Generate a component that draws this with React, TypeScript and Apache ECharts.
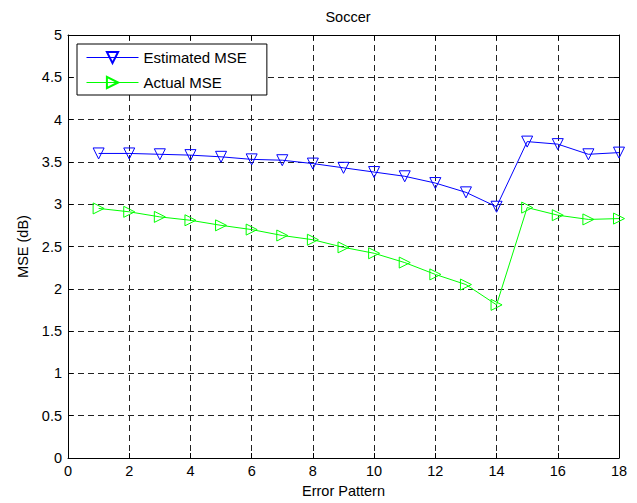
import React, { useEffect, useRef } from "react";
import * as echarts from "echarts";

const xValues = [1, 2, 3, 4, 5, 6, 7, 8, 9, 10, 11, 12, 13, 14, 15, 16, 17, 18];
const estimatedMSE = [3.6, 3.6, 3.59, 3.58, 3.56, 3.53, 3.52, 3.48, 3.43, 3.38, 3.33, 3.25, 3.14, 2.97, 3.74, 3.71, 3.59, 3.61];
const actualMSE = [2.95, 2.91, 2.85, 2.81, 2.75, 2.7, 2.63, 2.58, 2.49, 2.42, 2.31, 2.17, 2.05, 1.81, 2.96, 2.87, 2.82, 2.83];
const seriesNames = ["Estimated MSE", "Actual MSE"];

const FONT = "Liberation Sans, Arial, sans-serif";
const FS = 14.5;

export default function App() {
  const ref = useRef<HTMLDivElement>(null);
  useEffect(() => {
    if (!ref.current) return;
    const chart = echarts.init(ref.current, null, { renderer: "svg" });
    const axisCommon = {
      type: "value" as const,
      axisLine: { show: true, onZero: false, lineStyle: { color: "#000", width: 1 } },
      axisTick: { show: true, inside: true, length: 5, lineStyle: { color: "#000" } },
    };
    const option: any = {
      animation: false,
      backgroundColor: "#fff",
      title: {
        text: "Soccer",
        left: 343,
        top: 4,
        textAlign: "center",
        textStyle: { fontFamily: FONT, fontSize: FS, fontWeight: "normal", color: "#000" },
      },
      grid: { left: 68, right: 18, top: 35, bottom: 43, show: false },
      legend: {
        orient: "vertical",
        left: 77,
        top: 44,
        backgroundColor: "#fff",
        borderColor: "#000",
        borderWidth: 1,
        padding: [6, 20, 5, 9],
        itemWidth: 52,
        itemHeight: 14,
        itemGap: 10,
        lineStyle: { width: 1 },
        textStyle: { fontFamily: FONT, fontSize: 15, color: "#000" },
        data: seriesNames,
      },
      xAxis: [
        {
          ...axisCommon,
          min: 0,
          max: 18,
          interval: 2,
          name: "Error Pattern",
          nameLocation: "middle",
          nameGap: 25,
          nameTextStyle: { fontFamily: FONT, fontSize: FS, color: "#000" },
          axisLabel: { fontFamily: FONT, fontSize: FS, color: "#000", margin: 5 },
          splitLine: { show: true, lineStyle: { color: "#222", type: [6, 4], width: 1 } },
        },
        {
          ...axisCommon,
          position: "top",
          min: 0,
          max: 18,
          interval: 2,
          axisLabel: { show: false },
          splitLine: { show: false },
        },
      ],
      yAxis: [
        {
          ...axisCommon,
          min: 0,
          max: 5,
          interval: 0.5,
          name: "MSE (dB)",
          nameLocation: "middle",
          nameGap: 38,
          nameTextStyle: { fontFamily: FONT, fontSize: FS, color: "#000" },
          axisLabel: { fontFamily: FONT, fontSize: FS, color: "#000", margin: 6 },
          splitLine: { show: true, lineStyle: { color: "#222", type: [6, 4], width: 1 } },
        },
        {
          ...axisCommon,
          position: "right",
          min: 0,
          max: 5,
          interval: 0.5,
          axisLabel: { show: false },
          splitLine: { show: false },
        },
      ],
      series: [
        {
          name: seriesNames[0],
          type: "line",
          data: xValues.map((x, i) => [x, estimatedMSE[i]]),
          symbol: "triangle",
          symbolRotate: 180,
          symbolSize: 11,
          showAllSymbol: true,
          lineStyle: { color: "#0000ff", width: 1 },
          itemStyle: { color: "rgba(255,255,255,0)", borderColor: "#0000ff", borderWidth: 1 },
          z: 3,
        },
        {
          name: seriesNames[1],
          type: "line",
          data: xValues.map((x, i) => [x, actualMSE[i]]),
          symbol: "triangle",
          symbolRotate: -90,
          symbolSize: 11,
          showAllSymbol: true,
          lineStyle: { color: "#00ff00", width: 1 },
          itemStyle: { color: "rgba(255,255,255,0)", borderColor: "#00ff00", borderWidth: 1 },
          z: 3,
        },
      ],
    };
    chart.setOption(option);
    return () => chart.dispose();
  }, []);
  return <div ref={ref} style={{ width: 637, height: 503, position: "absolute", left: 0, top: 0 }} />;
}
